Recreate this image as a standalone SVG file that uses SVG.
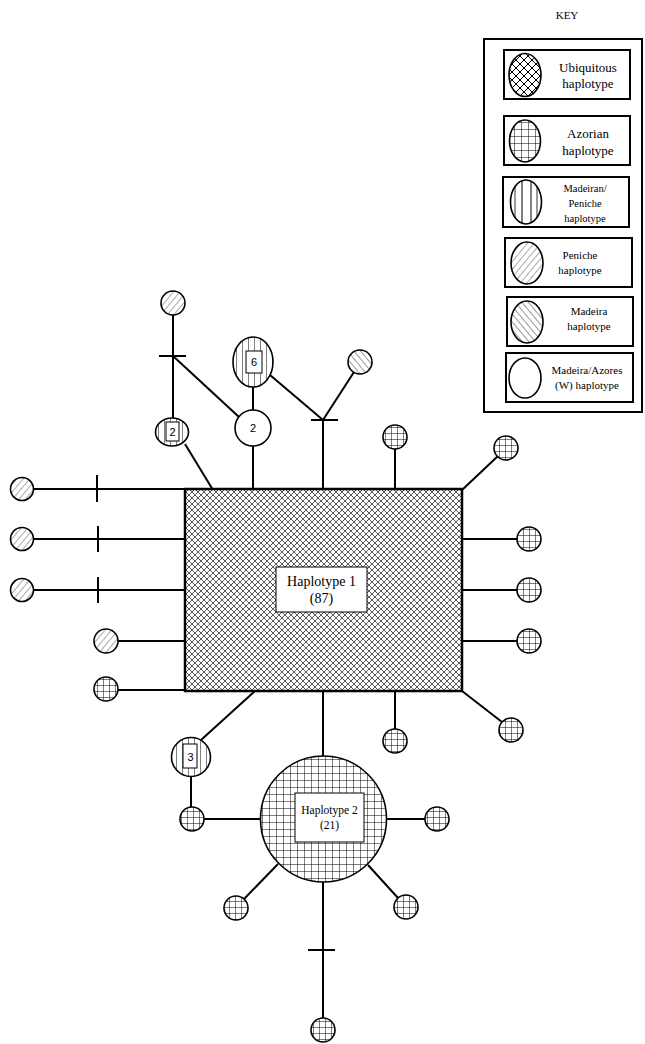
<svg xmlns="http://www.w3.org/2000/svg" width="645" height="1044" viewBox="0 0 645 1044">
<defs>
<pattern id="xh" patternUnits="userSpaceOnUse" width="6" height="6">
<path d="M0,0 L6,6 M6,0 L0,6" stroke="#222" stroke-width="0.75"/>
</pattern>
<pattern id="xhk" patternUnits="userSpaceOnUse" width="8" height="8">
<path d="M0,0 L8,8 M8,0 L0,8" stroke="#000" stroke-width="1"/>
</pattern>
<pattern id="grid" patternUnits="userSpaceOnUse" width="6" height="6" x="1" y="1">
<path d="M0,0 L6,0 M0,0 L0,6" stroke="#000" stroke-width="1"/>
</pattern>
<pattern id="gridb" patternUnits="userSpaceOnUse" width="7" height="7" x="3" y="3">
<path d="M0,0 L7,0 M0,0 L0,7" stroke="#000" stroke-width="1"/>
</pattern>
<pattern id="vert" patternUnits="userSpaceOnUse" width="6" height="6" x="2">
<path d="M0,0 L0,6" stroke="#000" stroke-width="1"/>
</pattern>
<pattern id="pen" patternUnits="userSpaceOnUse" width="5" height="10" patternTransform="rotate(40)">
<path d="M0,0 L0,10" stroke="#555" stroke-width="1"/>
</pattern>
<pattern id="mad" patternUnits="userSpaceOnUse" width="5" height="10" patternTransform="rotate(-40)">
<path d="M0,0 L0,10" stroke="#333" stroke-width="1"/>
</pattern>
</defs>
<style>
.c{stroke:#000;stroke-width:2;fill:none}
.t{stroke:#000;stroke-width:2}
.n{stroke:#000;stroke-width:1.6}
.box{fill:#fff;stroke:#000;stroke-width:1}
.kb{fill:#fff;stroke:#000;stroke-width:2}
.serif{font-family:"Liberation Serif","Times New Roman",serif;fill:#000}
.sans{font-family:"Liberation Sans",Arial,sans-serif;fill:#000;font-size:11px}
</style>
<rect width="645" height="1044" fill="#fff"/>

<g id="connectors">
<line class="c" x1="33" y1="489" x2="185" y2="489"/>
<line class="t" x1="97" y1="475" x2="97" y2="502"/>
<line class="c" x1="33" y1="539" x2="185" y2="539"/>
<line class="t" x1="98" y1="526" x2="98" y2="552"/>
<line class="c" x1="33" y1="590" x2="185" y2="590"/>
<line class="t" x1="98" y1="577" x2="98" y2="603"/>
<line class="c" x1="118" y1="641" x2="185" y2="641"/>
<line class="c" x1="118" y1="690" x2="185" y2="690"/>
<line class="c" x1="173" y1="315" x2="173" y2="418"/>
<line class="t" x1="159" y1="356" x2="186" y2="356"/>
<line class="c" x1="173" y1="356" x2="239" y2="417"/>
<line class="c" x1="185" y1="444" x2="213" y2="490"/>
<line class="c" x1="253" y1="387" x2="253" y2="410"/>
<line class="c" x1="253" y1="446" x2="253" y2="490"/>
<line class="c" x1="270" y1="375" x2="323" y2="420"/>
<line class="t" x1="311" y1="420" x2="338" y2="420"/>
<line class="c" x1="323" y1="420" x2="354" y2="372"/>
<line class="c" x1="323" y1="420" x2="323" y2="490"/>
<line class="c" x1="395" y1="449" x2="395" y2="490"/>
<line class="c" x1="462" y1="490" x2="498" y2="456"/>
<line class="c" x1="462" y1="539" x2="517" y2="539"/>
<line class="c" x1="462" y1="590" x2="517" y2="590"/>
<line class="c" x1="462" y1="641" x2="517" y2="641"/>
<line class="c" x1="462" y1="691" x2="502" y2="722"/>
<line class="c" x1="323" y1="691" x2="323" y2="756"/>
<line class="c" x1="255" y1="691" x2="201" y2="740"/>
<line class="c" x1="191" y1="777" x2="191" y2="807"/>
<line class="c" x1="204" y1="819" x2="260" y2="819"/>
<line class="c" x1="395" y1="691" x2="395" y2="729"/>
<line class="c" x1="387" y1="819" x2="425" y2="819"/>
<line class="c" x1="278" y1="864" x2="244" y2="899"/>
<line class="c" x1="368" y1="865" x2="398" y2="898"/>
<line class="c" x1="323" y1="882" x2="323" y2="1018"/>
<line class="t" x1="308" y1="950" x2="335" y2="950"/>
</g>

<g id="haplotype1">
<rect x="185" y="489" width="277" height="202" fill="url(#xh)" stroke="#000" stroke-width="2.5"/>
<rect class="box" x="276" y="567" width="91" height="45"/>
<text class="serif" x="321.5" y="586" font-size="14" text-anchor="middle">Haplotype 1</text>
<text class="serif" x="321.5" y="603" font-size="14" text-anchor="middle">(87)</text>
</g>

<g id="haplotype2">
<circle cx="323.5" cy="819" r="63" fill="#fff"/>
<circle cx="323.5" cy="819" r="63" fill="url(#gridb)" class="n" stroke-width="2"/>
<rect class="box" x="295" y="793" width="69" height="49"/>
<text class="serif" x="329.5" y="814" font-size="11.5" text-anchor="middle">Haplotype 2</text>
<text class="serif" x="329.5" y="829" font-size="11.5" text-anchor="middle">(21)</text>
</g>

<g id="left-nodes">
<circle cx="22" cy="489" r="11.5" fill="url(#pen)" class="n"/>
<circle cx="22" cy="539" r="11.5" fill="url(#pen)" class="n"/>
<circle cx="22" cy="590" r="11.5" fill="url(#pen)" class="n"/>
<circle cx="106" cy="641" r="12" fill="url(#pen)" class="n"/>
<circle cx="106" cy="689" r="12" fill="url(#grid)" class="n"/>
</g>

<g id="top-nodes">
<circle cx="173" cy="303" r="12" fill="url(#pen)" class="n"/>
<ellipse cx="172" cy="432" rx="16.5" ry="14" fill="url(#vert)" class="n"/>
<rect class="box" x="166" y="422" width="13" height="19"/>
<text class="sans" x="172.5" y="436" text-anchor="middle">2</text>
<circle cx="253" cy="428" r="18" fill="#fff" class="n"/>
<text class="sans" x="253" y="432" text-anchor="middle">2</text>
<ellipse cx="253" cy="362" rx="20" ry="25" fill="url(#vert)" class="n"/>
<rect class="box" x="246" y="351" width="16" height="22"/>
<text class="sans" x="254" y="366" text-anchor="middle">6</text>
<circle cx="360" cy="362" r="12" fill="url(#mad)" class="n"/>
<circle cx="395" cy="437" r="12" fill="url(#grid)" class="n"/>
<circle cx="506" cy="448" r="12" fill="url(#grid)" class="n"/>
</g>

<g id="right-nodes">
<circle cx="529" cy="539" r="12" fill="url(#grid)" class="n"/>
<circle cx="529" cy="590" r="12" fill="url(#grid)" class="n"/>
<circle cx="529" cy="641" r="12" fill="url(#grid)" class="n"/>
<circle cx="511" cy="730" r="12" fill="url(#grid)" class="n"/>
</g>

<g id="bottom-nodes">
<circle cx="191" cy="757" r="19.5" fill="url(#vert)" class="n"/>
<rect class="box" x="183" y="744" width="14" height="24"/>
<text class="sans" x="190.5" y="761" text-anchor="middle">3</text>
<circle cx="192" cy="819" r="12" fill="url(#grid)" class="n"/>
<circle cx="395" cy="741" r="12" fill="url(#grid)" class="n"/>
<circle cx="437" cy="819" r="12" fill="url(#grid)" class="n"/>
<circle cx="236" cy="908" r="12" fill="url(#grid)" class="n"/>
<circle cx="406" cy="907" r="12" fill="url(#grid)" class="n"/>
<circle cx="323" cy="1030" r="12" fill="url(#grid)" class="n"/>
</g>

<g id="key">
<text class="serif" x="567" y="19" font-size="11" text-anchor="middle">KEY</text>
<rect x="484" y="39" width="158" height="373" fill="#fff" stroke="#000" stroke-width="2"/>
<rect class="kb" x="504" y="50" width="126" height="49"/>
<ellipse cx="525" cy="75" rx="16" ry="21.5" fill="url(#xhk)" class="n"/>
<text class="serif" x="588" y="72" font-size="13" text-anchor="middle">Ubiquitous</text>
<text class="serif" x="588" y="88" font-size="13" text-anchor="middle">haplotype</text>
<rect class="kb" x="504" y="116" width="126" height="49"/>
<ellipse cx="525" cy="141" rx="15.5" ry="21" fill="url(#gridb)" class="n"/>
<text class="serif" x="588" y="138" font-size="13" text-anchor="middle">Azorian</text>
<text class="serif" x="588" y="155" font-size="13" text-anchor="middle">haplotype</text>
<rect class="kb" x="503" y="177" width="126" height="50"/>
<ellipse cx="526" cy="202" rx="15.5" ry="22" fill="#fff" class="n"/>
<path d="M522,181 V223 M531,181 V223" stroke="#000" stroke-width="1"/>
<path d="M515,186 V218 M537,186 V218" stroke="#000" stroke-width="0.8"/>
<text class="serif" x="585" y="192" font-size="10.5" text-anchor="middle">Madeiran/</text>
<text class="serif" x="585" y="207" font-size="10.5" text-anchor="middle">Peniche</text>
<text class="serif" x="585" y="222" font-size="10.5" text-anchor="middle">haplotype</text>
<rect class="kb" x="505" y="238" width="127" height="49"/>
<ellipse cx="527" cy="263" rx="16" ry="21" fill="url(#pen)" class="n"/>
<text class="serif" x="580" y="259" font-size="11" text-anchor="middle">Peniche</text>
<text class="serif" x="580" y="274" font-size="11" text-anchor="middle">haplotype</text>
<rect class="kb" x="507" y="297" width="126" height="49"/>
<ellipse cx="527" cy="322" rx="16" ry="21" fill="url(#mad)" class="n"/>
<text class="serif" x="589" y="315" font-size="11" text-anchor="middle">Madeira</text>
<text class="serif" x="589" y="330" font-size="11" text-anchor="middle">haplotype</text>
<rect class="kb" x="506" y="353" width="127" height="49"/>
<ellipse cx="525" cy="378" rx="16" ry="20" fill="#fff" class="n"/>
<text class="serif" x="587" y="374" font-size="11" text-anchor="middle">Madeira/Azores</text>
<text class="serif" x="587" y="389" font-size="11" text-anchor="middle">(W) haplotype</text>
</g>
</svg>
